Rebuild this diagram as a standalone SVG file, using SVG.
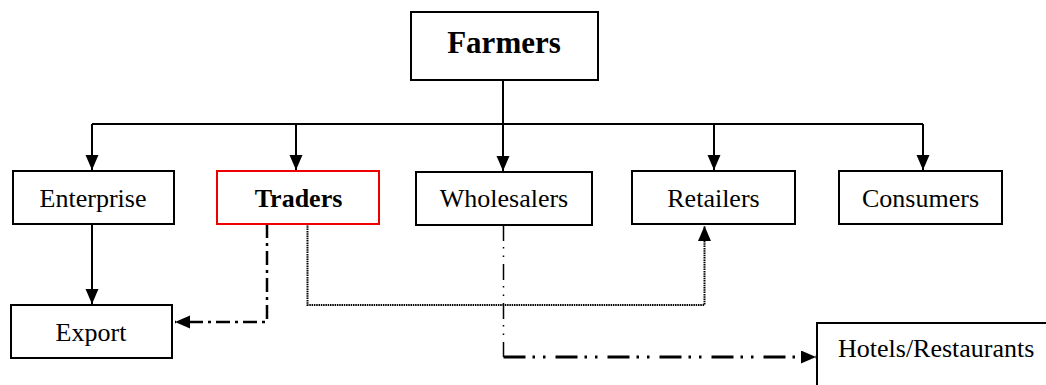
<svg xmlns="http://www.w3.org/2000/svg" width="1046" height="385" viewBox="0 0 1046 385">
<style>
.box{fill:#fff;stroke:#000;stroke-width:2}
.red{stroke:#e00}
.lbl{font-family:"Liberation Serif","Times New Roman",serif;font-size:26px;fill:#000}
.b{font-weight:bold}
.c{fill:none;stroke:#000}
.solid{stroke-width:2}
.dot{stroke-width:2;stroke-dasharray:1.5 0.8}
.dd{stroke-width:2.5;stroke-dasharray:14 5 3 5}
.ddv{stroke-width:1.5;stroke-dasharray:16 6 1.5 7 1.5 7}
.ddh{stroke-width:3;stroke-dasharray:22 7 2.5 8 2.5 10}
</style>
<defs>
<marker id="ah" markerUnits="userSpaceOnUse" markerWidth="16" markerHeight="14" refX="15" refY="6.5" orient="auto">
<path d="M0,0 L15,6.5 L0,13 Z" fill="#000"/>
</marker>
</defs>
<g id="connectors">
<path class="c solid" d="M503,80 V124"/>
<path class="c solid" d="M92,124 H923"/>
<path class="c solid" d="M92,124 V170" marker-end="url(#ah)"/>
<path class="c solid" d="M296,124 V170" marker-end="url(#ah)"/>
<path class="c solid" d="M503,124 V171" marker-end="url(#ah)"/>
<path class="c solid" d="M714,124 V170" marker-end="url(#ah)"/>
<path class="c solid" d="M923,124 V170" marker-end="url(#ah)"/>
<path class="c solid" d="M92,224 V304" marker-end="url(#ah)"/>
<path class="c dd" d="M267,224 V322 H175" marker-end="url(#ah)"/>
<path class="c dot" d="M307.5,224 V305 H704.5 V226" marker-end="url(#ah)"/>
<path class="c ddv" d="M503.5,225 V357"/>
<path class="c ddh" d="M503.5,357 H816" marker-end="url(#ah)"/>
</g>
<g id="farmers">
<rect class="box" x="411" y="12" width="187" height="68"/>
<text class="lbl b" x="504" y="53" text-anchor="middle" style="font-size:31px">Farmers</text>
</g>
<g id="enterprise">
<rect class="box" x="13" y="171" width="161" height="53"/>
<text class="lbl" x="93" y="206.5" text-anchor="middle">Enterprise</text>
</g>
<g id="traders">
<rect class="box red" x="217" y="171" width="162" height="53"/>
<text class="lbl b" x="298.5" y="206.5" text-anchor="middle">Traders</text>
</g>
<g id="wholesalers">
<rect class="box" x="416" y="172" width="176" height="53"/>
<text class="lbl" x="504" y="206.5" text-anchor="middle">Wholesalers</text>
</g>
<g id="retailers">
<rect class="box" x="632" y="171" width="163" height="53"/>
<text class="lbl" x="713.5" y="206.5" text-anchor="middle">Retailers</text>
</g>
<g id="consumers">
<rect class="box" x="839" y="171" width="163" height="53"/>
<text class="lbl" x="920.5" y="206.5" text-anchor="middle">Consumers</text>
</g>
<g id="export">
<rect class="box" x="11" y="305" width="161" height="53"/>
<text class="lbl" x="91" y="340.5" text-anchor="middle">Export</text>
</g>
<g id="hotels">
<rect class="box" x="817" y="323" width="260" height="90"/>
<text class="lbl" x="838" y="356.5">Hotels/Restaurants</text>
</g>
</svg>
